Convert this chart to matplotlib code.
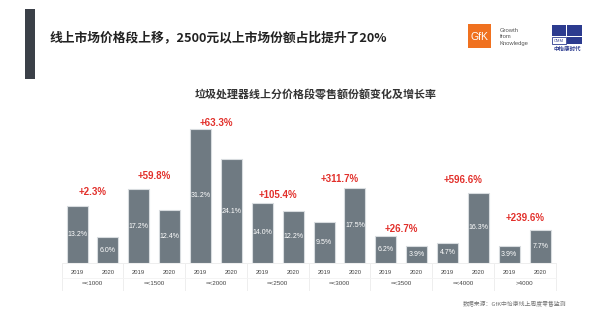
import numpy as np
import matplotlib.pyplot as plt
from matplotlib.patches import Rectangle

plt.rcParams['font.family'] = ['Noto Sans CJK SC', 'DejaVu Sans']

# data
groups = ['=<1000', '=<1500', '=<2000', '=<2500', '=<3000', '=<3500', '=<4000', '>4000']
years = ['2019', '2020']
share_2019 = [13.2, 17.2, 31.2, 14.0, 9.5, 6.2, 4.7, 3.9]
share_2020 = [6.0, 12.4, 24.1, 12.2, 17.5, 3.9, 16.3, 7.7]
growth = ['+2.3%', '+59.8%', '+63.3%', '+105.4%', '+311.7%', '+26.7%', '+596.6%', '+239.6%']

title = '线上市场价格段上移，2500元以上市场份额占比提升了20%'
subtitle = '垃圾处理器线上分价格段零售额份额变化及增长率'
source = '数据来源：GfK中怡康线上周度零售监测'

# gap (in % units) between the taller bar and the growth label, per group
label_pad = [3.4, 3.0, 1.4, 1.9, 2.1, 1.7, 3.0, 2.8]

W, H = 600, 324
fig = plt.figure(figsize=(W / 100, H / 100), dpi=100)
fig.patch.set_facecolor('white')


def fx(px):
    return px / W


def fy(py):
    return 1 - py / H


# left dark stripe + title
fig.patches.append(Rectangle((fx(25), fy(79)), fx(10), 70 / H, transform=fig.transFigure,
                             facecolor='#3b4048', edgecolor='none'))
fig.text(fx(50), fy(38), title, fontsize=9.2, fontweight='bold', color='#222222', va='center')
fig.text(fx(195), fy(95), subtitle, fontsize=7.9, fontweight='bold', color='#333333', va='center')
fig.text(fx(463), fy(303), source, fontsize=4.2, color='#777777', va='center')

# GfK logo
fig.patches.append(Rectangle((fx(468), fy(48)), fx(23), 24 / H, transform=fig.transFigure,
                             facecolor='#f0711f', edgecolor='none'))
fig.text(fx(479), fy(37), 'GfK', fontsize=7.5, color='white', ha='center', va='center',
         family=['Liberation Sans'])
fig.text(fx(500), fy(37), 'Growth\nfrom\nKnowledge', fontsize=4.2, color='#555555',
         va='center', linespacing=1.3, family=['Liberation Sans'])
# CMM logo
navy = '#2c3b8f'
fig.patches.append(Rectangle((fx(552), fy(36)), fx(14), 11 / H, transform=fig.transFigure,
                             facecolor=navy, edgecolor='none'))
fig.patches.append(Rectangle((fx(567), fy(36)), fx(15), 11 / H, transform=fig.transFigure,
                             facecolor=navy, edgecolor='none'))
fig.patches.append(Rectangle((fx(567), fy(44)), fx(15), 7 / H, transform=fig.transFigure,
                             facecolor=navy, edgecolor='none'))
fig.patches.append(Rectangle((fx(552), fy(44)), fx(14), 7 / H, transform=fig.transFigure,
                             facecolor='white', edgecolor=navy, linewidth=0.6))
fig.text(fx(559), fy(40.5), 'CMM', fontsize=3, color=navy, ha='center', va='center',
         family=['Liberation Sans'])
fig.text(fx(567), fy(49), '中怡康时代', fontsize=4, color=navy, ha='center', va='center',
         fontweight='bold')

# bar chart
ax = fig.add_axes([fx(61.6), fy(263), fx(494), 150.5 / H])
n = len(groups)
x = np.arange(2 * n)
vals = np.ravel(np.column_stack([share_2019, share_2020]))
ax.bar(x, vals, width=0.68, color='#6f7a82', edgecolor='#d8dcdf', linewidth=0.8)
ax.set_xlim(-0.5, 2 * n - 0.5)
ax.set_ylim(0, 35)
ax.axis('off')

for xi, v in zip(x, vals):
    ax.text(xi, v / 2, f'{v:.1f}%', ha='center', va='center', fontsize=5, color='white',
            family=['Liberation Sans'])
    ax.text(xi, -2.1, years[xi % 2], ha='center', va='center', fontsize=4.2, color='#444444',
            family=['Liberation Sans'], clip_on=False)

for i, g in enumerate(groups):
    top = max(share_2019[i], share_2020[i])
    ax.text(2 * i + 0.5, top + label_pad[i], growth[i], ha='center', va='center', fontsize=7,
            fontweight='bold', color='#e2302b', family=['Liberation Sans'], clip_on=False)
    ax.text(2 * i + 0.5, -4.7, g, ha='center', va='center', fontsize=4.5, color='#444444',
            family=['Liberation Sans'], clip_on=False)

# faint cell lines
for b in np.arange(-0.5, 2 * n, 2):
    ax.plot([b, b], [0, -6.3], color='#eeeeee', lw=0.7, clip_on=False)
ax.plot([-0.5, 2 * n - 0.5], [0, 0], color='#eeeeee', lw=0.7, clip_on=False)
ax.plot([-0.5, 2 * n - 0.5], [-3.4, -3.4], color='#f3f3f3', lw=0.6, clip_on=False)

fig.savefig('out.png', dpi=100, facecolor='white')
